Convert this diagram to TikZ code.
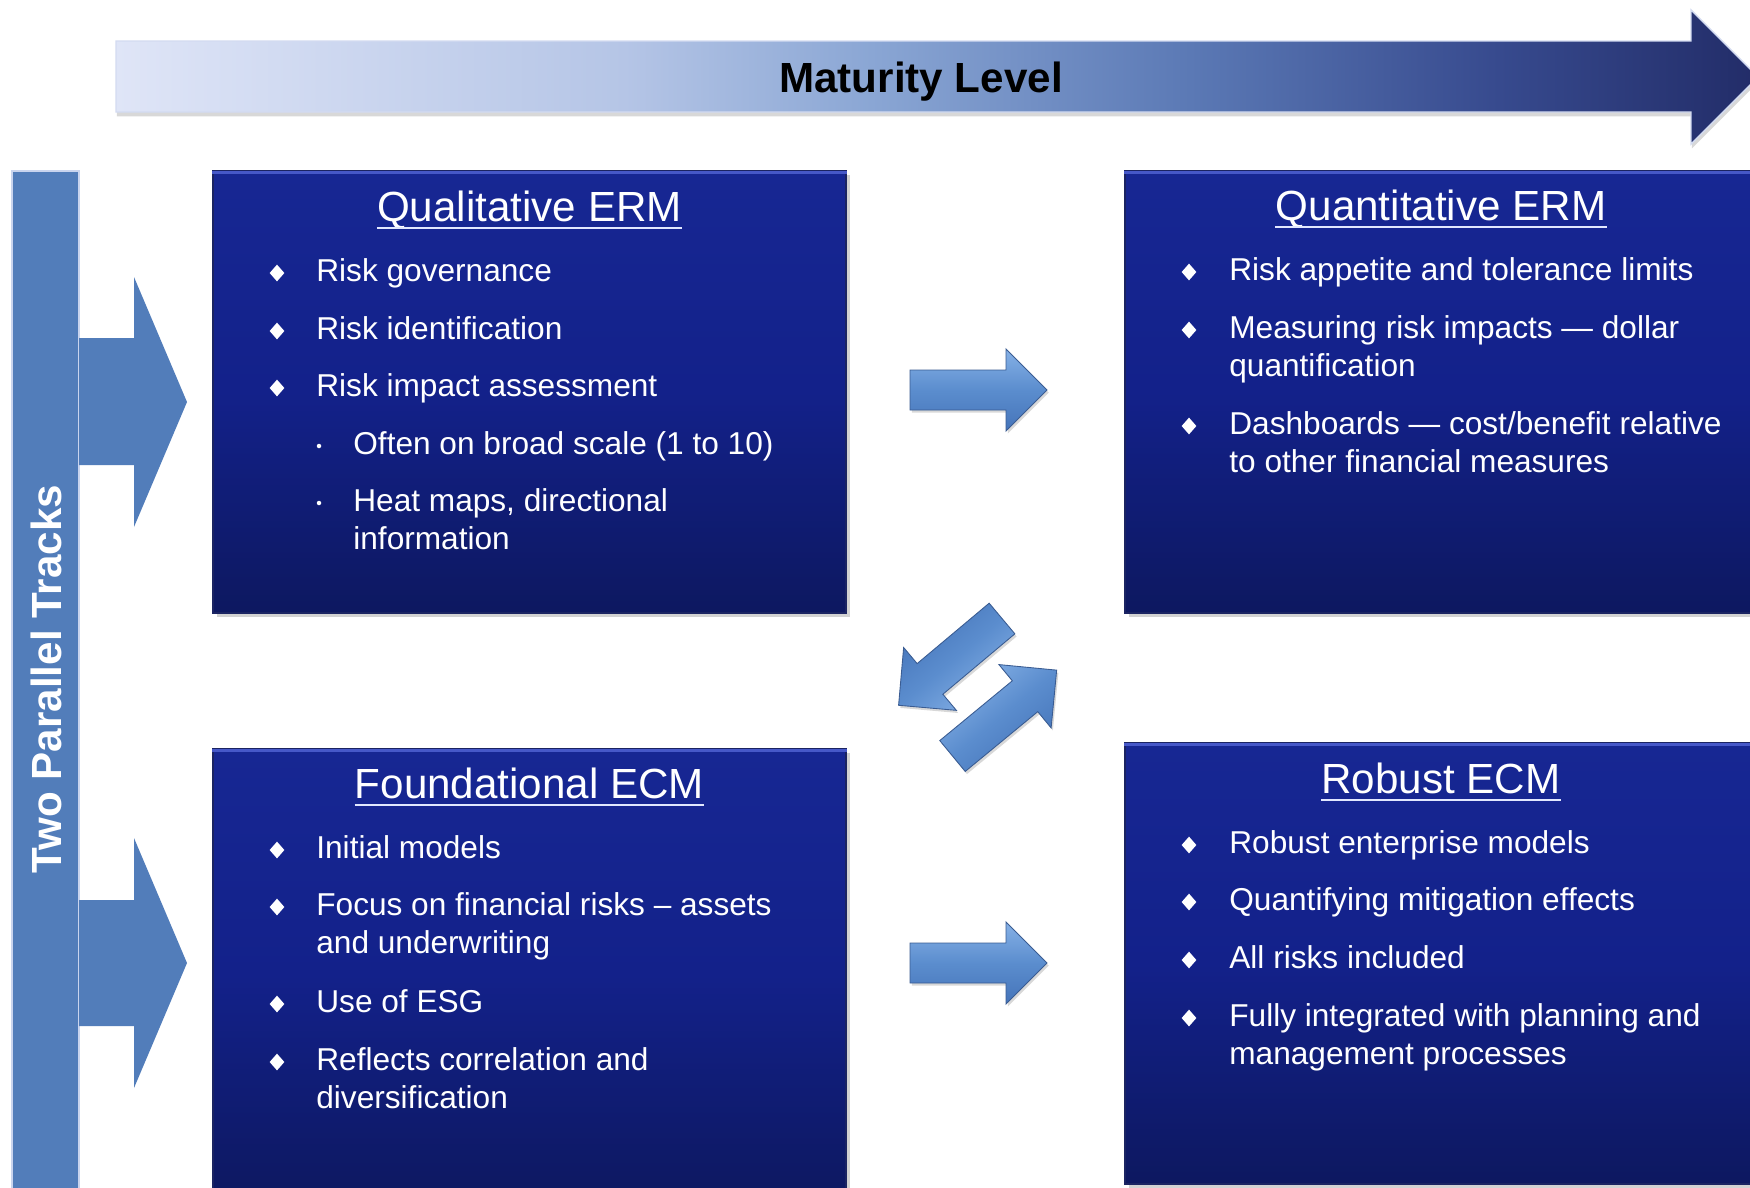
\documentclass[tikz,border=0pt]{standalone}
\usepackage{fontspec}
\setmainfont{Liberation Sans}
\usetikzlibrary{shadows,shapes.geometric}

% palette
\definecolor{matA}{HTML}{DFE5F7}
\definecolor{matB}{HTML}{B5C5E6}
\definecolor{matC}{HTML}{8AA6D4}
\definecolor{matD}{HTML}{5B79B5}
\definecolor{matE}{HTML}{374A8E}
\definecolor{matF}{HTML}{222C68}
\definecolor{matedge}{HTML}{D3DBF1}
\definecolor{barblue}{HTML}{527DBA}
\definecolor{baredge}{HTML}{C9D4EE}
\definecolor{boxtop}{HTML}{172793}
\definecolor{boxmid}{HTML}{13218A}
\definecolor{boxbot}{HTML}{0D1860}
\definecolor{boxedge}{HTML}{1B2462}
\definecolor{boxhi}{HTML}{4658C8}
\definecolor{ulinecol}{HTML}{E2E8FF}
\definecolor{arrowhi}{HTML}{86B1E6}
\definecolor{arrowmid}{HTML}{5B8DCE}
\definecolor{arrowlo}{HTML}{4574B9}
\definecolor{arrowedge}{HTML}{3A5C92}

% left-to-right fade of the maturity arrow
\pgfdeclarehorizontalshading{maturity}{100bp}{%
  color(0bp)=(matA); color(25bp)=(matA); color(40.5bp)=(matB);
  color(48bp)=(matC); color(57.7bp)=(matD); color(67.1bp)=(matE);
  color(75bp)=(matF); color(100bp)=(matF)}

\newcommand\pxu{0.02cm}

% beveled block arrow: tail centre, angle, length
\newcommand\fatarrow[3]{%
  \begin{scope}[shift={(#1)},rotate=#2]
    \path[fatarrowstyle, shading angle=#2]
      (0,-20) -- ({#3-41},-20) -- ({#3-41},-41) -- (#3,0)
      -- ({#3-41},41) -- ({#3-41},20) -- (0,20) -- cycle;
  \end{scope}}

\tikzset{
  fatarrowstyle/.style={draw=arrowedge, line width=0.5pt,
    top color=arrowhi, bottom color=arrowlo, middle color=arrowmid,
    drop shadow={shadow xshift=1pt, shadow yshift=-1.5pt, opacity=0.3}},
  panel/.style={draw=boxedge, line width=0.6pt, inner sep=0pt,
    top color=boxtop, bottom color=boxbot, middle color=boxmid,
    drop shadow={shadow xshift=2pt, shadow yshift=-2.5pt, opacity=0.35}},
  paneltitle/.style={font=\fontsize{24}{28}\selectfont, text=white,
    anchor=base, inner sep=0pt},
  uline/.style={draw=ulinecol, line width=1.3pt},
  itemtext/.style={font=\fontsize{18}{21.6}\selectfont, text=white,
    anchor=base west, inner sep=0pt},
  bul/.style={diamond, fill=white, inner sep=0pt,
    minimum width=15*\pxu, minimum height=17*\pxu},
  subbul/.style={circle, fill=white, inner sep=0pt,
    minimum size=4.5*\pxu},
  sidearrow/.style={fill=barblue},
}

\begin{document}
\begin{tikzpicture}[x=\pxu, y=-\pxu]
\useasboundingbox (0,0) rectangle (1750,1187);
\fill[white] (0,0) rectangle (1750,1187);

% maturity arrow across the top
\path[shading=maturity, draw=matedge, line width=0.8pt,
      drop shadow={shadow xshift=0.5pt, shadow yshift=-2.5pt, opacity=0.3}]
  (116,41) -- (1691,41) -- (1691,10) -- (1758,77) -- (1691,144)
  -- (1691,112) -- (116,112) -- cycle;
\node[font=\fontsize{24}{28}\selectfont\bfseries, anchor=base, inner sep=0pt]
  (mat) at (921,92) {Maturity Level};

% vertical track bar
\node[fill=barblue, draw=baredge, line width=1.2pt, inner sep=0pt,
      minimum width=67*\pxu, minimum height=1040*\pxu] (bar) at (45.5,691) {};
\node[rotate=90, font=\fontsize{24}{28}\selectfont\bfseries, text=white,
      inner sep=0pt] (tracks) at (46,679) {Two Parallel Tracks};

% arrows from the bar into each track
\path[sidearrow] (79,338) -- (134,338) -- (134,277) -- (187,402)
  -- (134,527) -- (134,465) -- (79,465) -- cycle;
\path[sidearrow] (79,900) -- (134,900) -- (134,838) -- (187,963)
  -- (134,1088) -- (134,1026) -- (79,1026) -- cycle;

% four panels
\node[panel, minimum width=633*\pxu, minimum height=442*\pxu] (ql) at (529.5,392) {};
\node[panel, minimum width=635*\pxu, minimum height=442*\pxu] (qn) at (1442.5,392) {};
\node[panel, minimum width=633*\pxu, minimum height=451*\pxu] (fd) at (529.5,974.5) {};
\node[panel, minimum width=635*\pxu, minimum height=441*\pxu] (rb) at (1442.5,963.5) {};
\foreach \p in {ql,qn,fd,rb}
  \draw[boxhi, line width=1.6pt]
    ([yshift=-1pt]\p.north west) -- ([yshift=-1pt]\p.north east);

% transition arrows between panels
\fatarrow{910,390}{0}{137}
\fatarrow{910,963}{0}{137}
\fatarrow{1002,618.5}{220}{135}
\fatarrow{952.5,756}{39.5}{135}

% Qualitative ERM
\node[paneltitle] (qlt) at (529.5,221) {Qualitative ERM};
\draw[uline] ([yshift=-4pt]qlt.base west) -- ([yshift=-4pt]qlt.base east);
\node[bul] (ql1b) at (277,273) {};
\node[itemtext] (ql1) at (316,281) {Risk governance};
\node[bul] (ql2b) at (277,331) {};
\node[itemtext] (ql2) at (316,339) {Risk identification};
\node[bul] (ql3b) at (277,388) {};
\node[itemtext] (ql3) at (316,396) {Risk impact assessment};
\node[subbul] (ql4b) at (319,446) {};
\node[itemtext] (ql4) at (353,454) {Often on broad scale (1 to 10)};
\node[subbul] (ql5b) at (319,503) {};
\node[itemtext] (ql5) at (353,511) {Heat maps, directional};
\node[itemtext] (ql5c) at (353,549) {information};

% Quantitative ERM
\node[paneltitle] (qnt) at (1441,220) {Quantitative ERM};
\draw[uline] ([yshift=-4pt]qnt.base west) -- ([yshift=-4pt]qnt.base east);
\node[bul] (qn1b) at (1189,272) {};
\node[itemtext] (qn1) at (1229,280) {Risk appetite and tolerance limits};
\node[bul] (qn2b) at (1189,330) {};
\node[itemtext] (qn2) at (1229,338) {Measuring risk impacts — dollar};
\node[itemtext] (qn2c) at (1229,376) {quantification};
\node[bul] (qn3b) at (1189,426) {};
\node[itemtext] (qn3) at (1229,434) {Dashboards — cost/benefit relative};
\node[itemtext] (qn3c) at (1229,472) {to other financial measures};

% Foundational ECM
\node[paneltitle] (fdt) at (529.5,798) {Foundational ECM};
\draw[uline] ([yshift=-4pt]fdt.base west) -- ([yshift=-4pt]fdt.base east);
\node[bul] (fd1b) at (277,850) {};
\node[itemtext] (fd1) at (316,858) {Initial models};
\node[bul] (fd2b) at (277,907) {};
\node[itemtext] (fd2) at (316,915) {Focus on financial risks – assets};
\node[itemtext] (fd2c) at (316,953) {and underwriting};
\node[bul] (fd3b) at (277,1004) {};
\node[itemtext] (fd3) at (316,1012) {Use of ESG};
\node[bul] (fd4b) at (277,1062) {};
\node[itemtext] (fd4) at (316,1070) {Reflects correlation and};
\node[itemtext] (fd4c) at (316,1108) {diversification};

% Robust ECM
\node[paneltitle] (rbt) at (1441,793) {Robust ECM};
\draw[uline] ([yshift=-4pt]rbt.base west) -- ([yshift=-4pt]rbt.base east);
\node[bul] (rb1b) at (1189,845) {};
\node[itemtext] (rb1) at (1229,853) {Robust enterprise models};
\node[bul] (rb2b) at (1189,902) {};
\node[itemtext] (rb2) at (1229,910) {Quantifying mitigation effects};
\node[bul] (rb3b) at (1189,960) {};
\node[itemtext] (rb3) at (1229,968) {All risks included};
\node[bul] (rb4b) at (1189,1018) {};
\node[itemtext] (rb4) at (1229,1026) {Fully integrated with planning and};
\node[itemtext] (rb4c) at (1229,1064) {management processes};
\end{tikzpicture}
\end{document}
